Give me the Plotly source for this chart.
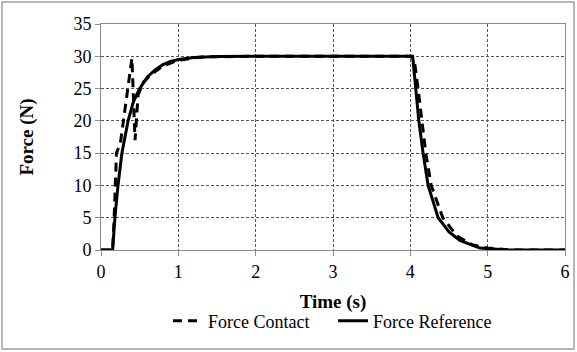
import plotly.graph_objects as go

# Data
t_contact = [0, 0.15, 0.17, 0.20, 0.25, 0.40, 0.44, 0.48, 0.55, 0.65, 0.80, 1.00, 1.30, 2.00,
             4.00, 4.05, 4.10, 4.15, 4.20, 4.27, 4.42, 4.60, 4.80, 5.00, 5.30, 6.00]
f_contact = [0, 0, 5, 15, 16.5, 29.7, 17, 24, 26, 27.2, 28.5, 29.4, 29.9, 30,
             30, 29.5, 25, 20, 15, 10, 5, 2.2, 0.8, 0.3, 0, 0]

t_ref = [0, 0.15, 0.18, 0.22, 0.27, 0.35, 0.42, 0.50, 0.60, 0.70, 0.80, 0.90, 1.00, 1.20, 1.50, 2.00,
         4.03, 4.07, 4.11, 4.165, 4.23, 4.36, 4.50, 4.64, 4.90, 5.25, 6.00]
f_ref = [0, 0, 5, 10, 15, 20, 23, 25, 26.8, 27.9, 28.7, 29.2, 29.5, 29.8, 29.95, 30,
         30, 25, 20, 15, 10, 5, 2.8, 1.5, 0.3, 0, 0]

x_ticks = [0, 1, 2, 3, 4, 5, 6]
y_ticks = [0, 5, 10, 15, 20, 25, 30, 35]

font = "'Times New Roman', 'Liberation Serif', serif"

fig = go.Figure()
fig.add_trace(go.Scatter(x=t_contact, y=f_contact, mode="lines", name="Force Contact",
                         line=dict(color="black", width=3, dash="9px,6px")))
fig.add_trace(go.Scatter(x=t_ref, y=f_ref, mode="lines", name="Force Reference",
                         line=dict(color="black", width=3)))

L, R, T, B = 101, 12, 24, 102
W, H = 577, 352
pw, ph = W - L - R, H - T - B

fig.update_layout(
    width=W, height=H,
    margin=dict(l=L, r=R, t=T, b=B, autoexpand=False),
    paper_bgcolor="white", plot_bgcolor="white",
    font=dict(family=font, size=17, color="black"),
    showlegend=True,
    legend=dict(orientation="h", x=(168 - L) / pw, xanchor="left",
                y=(250 - 321) / ph, yanchor="middle",
                entrywidth=120, entrywidthmode="pixels",
                font=dict(family=font, size=18), bgcolor="rgba(0,0,0,0)"),
    xaxis=dict(range=[0, 6], tickvals=x_ticks, showgrid=True, gridcolor="#555555",
               griddash="3px,2px", gridwidth=1, zeroline=False, showline=True,
               linecolor="#8c8c8c", linewidth=1, mirror=True, ticks="outside", ticklen=5,
               tickcolor="#8c8c8c", automargin=False,
               tickfont=dict(family=font, size=18),
               title=dict(text="<b>Time (s)</b>", font=dict(family=font, size=19), standoff=14)),
    yaxis=dict(range=[0, 35], tickvals=y_ticks, showgrid=True, gridcolor="#555555",
               griddash="3px,2px", gridwidth=1, zeroline=False, showline=True,
               linecolor="#8c8c8c", linewidth=1, mirror=True, ticks="outside", ticklen=5,
               tickcolor="#8c8c8c", automargin=False,
               tickfont=dict(family=font, size=18),
               title=dict(text="<b>Force (N)</b>", font=dict(family=font, size=19), standoff=34)),
)

# Outer chart border
fig.add_shape(type="rect", xref="paper", yref="paper",
              x0=(2 - L) / pw, x1=(574 - L) / pw,
              y0=(T + ph - 349) / ph, y1=(T + ph - 2) / ph,
              line=dict(color="#a0a0a0", width=1.5), layer="below")

fig.write_html("out.html", config={"displayModeBar": False},
               post_script="document.body.style.margin='0';document.body.style.overflow='hidden';")
